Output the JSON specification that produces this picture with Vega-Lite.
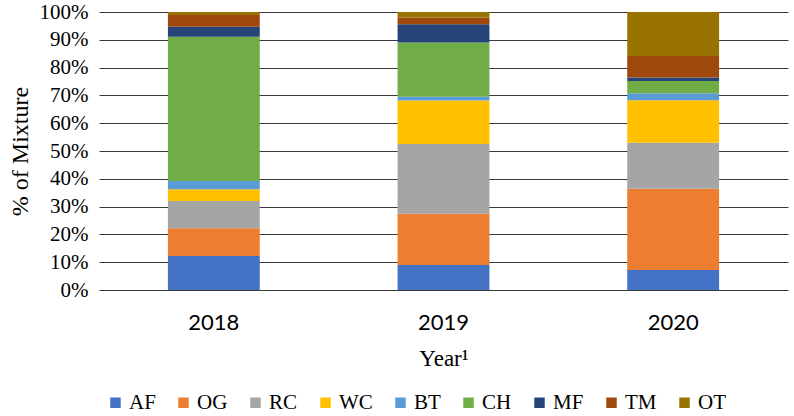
{
  "$schema": "https://vega.github.io/schema/vega-lite/v6.json",
  "autosize": {"type": "none"},
  "width": 689,
  "height": 278,
  "padding": {"left": 99, "top": 12, "right": 6, "bottom": 126},
  "background": "white",
  "data": {
    "values": [
      {"year": "2018", "type": "AF", "order": 1, "pct": 12.2},
      {"year": "2018", "type": "OG", "order": 2, "pct": 10.0},
      {"year": "2018", "type": "RC", "order": 3, "pct": 9.8},
      {"year": "2018", "type": "WC", "order": 4, "pct": 4.2},
      {"year": "2018", "type": "BT", "order": 5, "pct": 3.0},
      {"year": "2018", "type": "CH", "order": 6, "pct": 51.9},
      {"year": "2018", "type": "MF", "order": 7, "pct": 3.6},
      {"year": "2018", "type": "TM", "order": 8, "pct": 4.2},
      {"year": "2018", "type": "OT", "order": 9, "pct": 1.1},
      {"year": "2019", "type": "AF", "order": 1, "pct": 9.0},
      {"year": "2019", "type": "OG", "order": 2, "pct": 18.4},
      {"year": "2019", "type": "RC", "order": 3, "pct": 25.1},
      {"year": "2019", "type": "WC", "order": 4, "pct": 15.7},
      {"year": "2019", "type": "BT", "order": 5, "pct": 1.3},
      {"year": "2019", "type": "CH", "order": 6, "pct": 19.5},
      {"year": "2019", "type": "MF", "order": 7, "pct": 6.6},
      {"year": "2019", "type": "TM", "order": 8, "pct": 2.4},
      {"year": "2019", "type": "OT", "order": 9, "pct": 2.0},
      {"year": "2020", "type": "AF", "order": 1, "pct": 7.2},
      {"year": "2020", "type": "OG", "order": 2, "pct": 29.2},
      {"year": "2020", "type": "RC", "order": 3, "pct": 16.6},
      {"year": "2020", "type": "WC", "order": 4, "pct": 15.3},
      {"year": "2020", "type": "BT", "order": 5, "pct": 2.5},
      {"year": "2020", "type": "CH", "order": 6, "pct": 4.4},
      {"year": "2020", "type": "MF", "order": 7, "pct": 1.2},
      {"year": "2020", "type": "TM", "order": 8, "pct": 7.8},
      {"year": "2020", "type": "OT", "order": 9, "pct": 15.8}
    ]
  },
  "mark": {"type": "bar"},
  "encoding": {
    "x": {
      "field": "year", "type": "nominal",
      "scale": {"paddingInner": 0.6, "paddingOuter": 0.3},
      "axis": {
        "title": "Year¹", "labelAngle": 0, "domain": false, "ticks": false,
        "labelFont": "Lato", "labelFontSize": 22, "labelColor": "#000000", "labelPadding": 22,
        "titleFont": "Liberation Serif", "titleFontSize": 23, "titleFontWeight": "normal", "titleColor": "#000000", "titlePadding": 14
      }
    },
    "y": {
      "field": "pct", "type": "quantitative", "stack": "normalize",
      "scale": {"domain": [0, 1]},
      "axis": {
        "title": "% of Mixture", "format": ".0%", "values": [0,0.1,0.2,0.3,0.4,0.5,0.6,0.7,0.8,0.9,1.0],
        "labelOverlap": false,
        "domain": false, "ticks": false, "grid": true, "gridColor": "#3a3a3a", "gridWidth": 1.2,
        "labelFont": "Liberation Serif", "labelFontSize": 21, "labelColor": "#000000", "labelPadding": 11,
        "titleFont": "Liberation Serif", "titleFontSize": 24, "titleFontWeight": "normal", "titleColor": "#000000", "titlePadding": 7
      }
    },
    "color": {
      "field": "type", "type": "nominal",
      "sort": ["AF", "OG", "RC", "WC", "BT", "CH", "MF", "TM", "OT"],
      "scale": {
        "domain": ["AF", "OG", "RC", "WC", "BT", "CH", "MF", "TM", "OT"],
        "range": ["#4472C4", "#ED7D31", "#A5A5A5", "#FFC000", "#5B9BD5", "#70AD47", "#264478", "#9E480E", "#997300"]
      },
      "legend": {
        "title": null, "orient": "none", "direction": "horizontal", "legendX": 6, "legendY": 380,
        "symbolType": "square", "symbolSize": 110, "symbolStrokeWidth": 0, "symbolOpacity": 1,
        "labelFont": "Liberation Serif", "labelFontSize": 21, "labelColor": "#000000", "labelOffset": 3,
        "columnPadding": 17, "columns": 9
      }
    },
    "order": {"field": "order", "type": "quantitative"}
  },
  "config": {"view": {"stroke": null}, "axis": {"gridOpacity": 1}}
}
